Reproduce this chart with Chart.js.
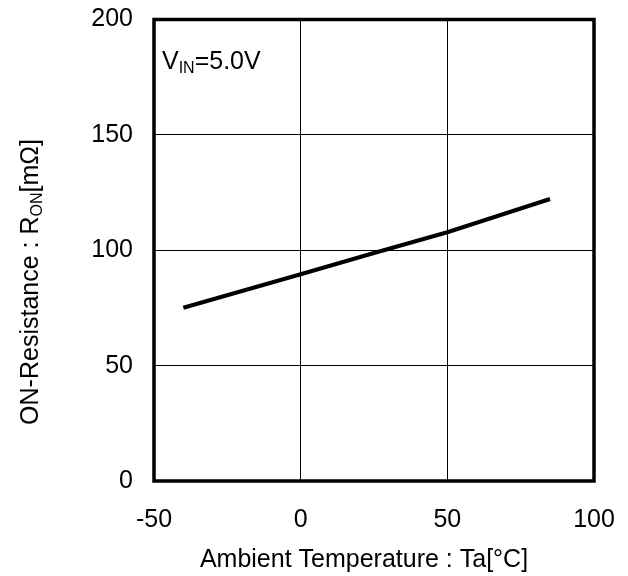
<!DOCTYPE html>
<html>
<head>
<meta charset="utf-8">
<script src="https://cdn.jsdelivr.net/npm/chart.js@4.4.0/dist/chart.umd.min.js"></script>
<style>
  html, body { margin: 0; padding: 0; background: #fff; }
  #wrap { width: 628px; height: 576px; }
</style>
</head>
<body>
<div id="wrap"><canvas id="myChart" width="628" height="576"></canvas></div>
<script>
// temperature [°C] and on-resistance [mOhm]
var temps = [-40, 0, 25, 50, 85];
var ronValues = [75.1, 89.6, 98.8, 107.8, 122.2];
var xTicks = [-50, 0, 50, 100];
var yTicks = [0, 50, 100, 150, 200];

var FONT = '"Liberation Sans", Arial, sans-serif';

// frame, axis titles and the V_IN note with subscripts
var extras = {
    id: 'extras',
    afterDraw: function(chart) {
        var ctx = chart.ctx;
        var a = chart.chartArea;
        ctx.save();
        ctx.strokeStyle = '#000';
        ctx.lineWidth = 3.5;
        ctx.strokeRect(a.left, a.top, a.right - a.left, a.bottom - a.top);

        ctx.fillStyle = '#000';
        ctx.textBaseline = 'alphabetic';

        // x title
        ctx.font = '25px ' + FONT;
        ctx.textAlign = 'center';
        ctx.fillText('Ambient Temperature : Ta[°C]', 364, 567);

        // y title, rotated, with subscript
        ctx.save();
        ctx.translate(38, 282);
        ctx.rotate(-Math.PI / 2);
        ctx.textAlign = 'left';
        var big = '25px ' + FONT, small = '16px ' + FONT;
        ctx.font = big;
        var w1 = ctx.measureText('ON-Resistance : R').width;
        var w3 = ctx.measureText('[mΩ]').width;
        ctx.font = small;
        var w2 = ctx.measureText('ON').width;
        var x = -(w1 + w2 + w3) / 2;
        ctx.font = big;
        ctx.fillText('ON-Resistance : R', x, 0);
        ctx.font = small;
        ctx.fillText('ON', x + w1, 4);
        ctx.font = big;
        ctx.fillText('[mΩ]', x + w1 + w2, 0);
        ctx.restore();

        // V_IN note
        ctx.textAlign = 'left';
        ctx.font = big;
        var bx = a.left + 8, by = 69;
        ctx.fillText('V', bx, by);
        var wv = ctx.measureText('V').width;
        ctx.font = small;
        ctx.fillText('IN', bx + wv, by + 4);
        var wi = ctx.measureText('IN').width;
        ctx.font = big;
        ctx.fillText('=5.0V', bx + wv + wi, by);
        ctx.restore();
    }
};

var ctx = document.getElementById('myChart').getContext('2d');
var chart = new Chart(ctx, {
    type: 'line',
    data: {
        datasets: [{
            label: 'RON',
            data: temps.map(function(t, i) { return { x: t, y: ronValues[i] }; }),
            borderColor: '#000',
            borderWidth: 4,
            pointRadius: 0,
            tension: 0,
            fill: false
        }]
    },
    options: {
        responsive: false,
        animation: false,
        layout: { padding: { top: 19.5, right: 34, left: 0, bottom: 0 } },
        plugins: {
            legend: { display: false },
            tooltip: { enabled: false }
        },
        scales: {
            x: {
                type: 'linear',
                min: -50,
                max: 100,
                afterBuildTicks: function(scale) {
                    scale.ticks = xTicks.map(function(v) { return { value: v }; });
                },
                afterFit: function(scale) {
                    scale.height = 95;
                    scale.paddingLeft = 0;
                    scale.paddingRight = 0;
                },
                grid: { color: '#000', lineWidth: 1, drawTicks: false },
                border: { display: false },
                ticks: {
                    padding: 24,
                    color: '#000',
                    maxRotation: 0,
                    font: { family: FONT, size: 25 }
                }
            },
            y: {
                min: 0,
                max: 200,
                afterBuildTicks: function(scale) {
                    scale.ticks = yTicks.map(function(v) { return { value: v }; });
                },
                afterFit: function(scale) {
                    scale.width = 154;
                    scale.paddingTop = 0;
                    scale.paddingBottom = 0;
                },
                grid: { color: '#000', lineWidth: 1, drawTicks: false },
                border: { display: false },
                ticks: {
                    padding: 21,
                    color: '#000',
                    font: { family: FONT, size: 25 }
                }
            }
        }
    },
    plugins: [extras]
});
</script>
</body>
</html>
